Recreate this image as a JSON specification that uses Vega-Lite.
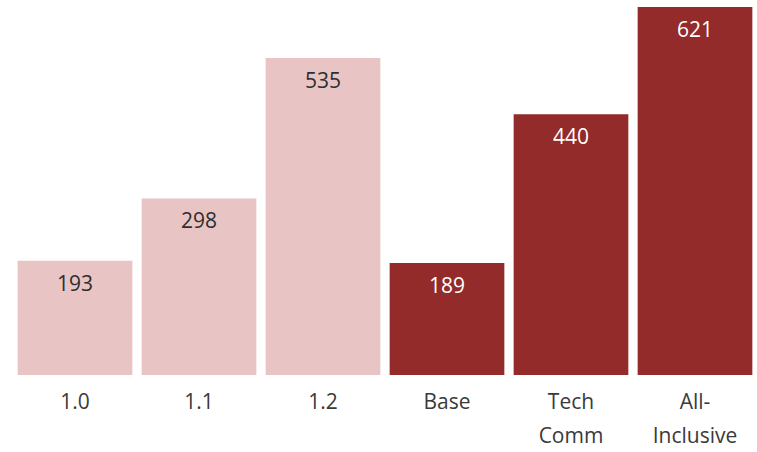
{
  "$schema": "https://vega.github.io/schema/vega-lite/v6.json",
  "width": 744,
  "height": 375,
  "autosize": {"type": "none"},
  "padding": {"left": 13, "top": 0, "right": 0, "bottom": 77},
  "background": "white",
  "config": {"view": {"stroke": null}, "font": "Open Sans"},
  "data": {
    "values": [
      {"version": "1.0", "count": 193, "group": "old"},
      {"version": "1.1", "count": 298, "group": "old"},
      {"version": "1.2", "count": 535, "group": "old"},
      {"version": "Base", "count": 189, "group": "new"},
      {"version": "Tech Comm", "count": 440, "group": "new"},
      {"version": "All-Inclusive", "count": 621, "group": "new"}
    ]
  },
  "encoding": {
    "x": {
      "field": "version",
      "type": "nominal",
      "sort": null,
      "scale": {"paddingInner": 0.075, "paddingOuter": 0.0375},
      "axis": {
        "title": null,
        "labelAngle": 0,
        "domain": false,
        "ticks": false,
        "labelPadding": 16,
        "labelFontSize": 21,
        "labelColor": "#3a3a3a",
        "labelLineHeight": 34,
        "labelExpr": "datum.value == 'Tech Comm' ? ['Tech', 'Comm'] : datum.value == 'All-Inclusive' ? ['All-', 'Inclusive'] : datum.value"
      }
    },
    "y": {
      "field": "count",
      "type": "quantitative",
      "scale": {"domain": [0, 633], "nice": false},
      "axis": null
    }
  },
  "layer": [
    {
      "mark": {"type": "bar"},
      "encoding": {
        "color": {
          "field": "group",
          "type": "nominal",
          "scale": {"domain": ["old", "new"], "range": ["#E8C5C4", "#922B29"]},
          "legend": null
        }
      }
    },
    {
      "mark": {"type": "text", "baseline": "middle", "dy": 24, "fontSize": 21},
      "encoding": {
        "text": {"field": "count", "type": "quantitative"},
        "color": {
          "field": "group",
          "type": "nominal",
          "scale": {"domain": ["old", "new"], "range": ["#2e2e2e", "#FFFFFF"]},
          "legend": null
        }
      }
    }
  ],
  "resolve": {"scale": {"color": "independent"}}
}
